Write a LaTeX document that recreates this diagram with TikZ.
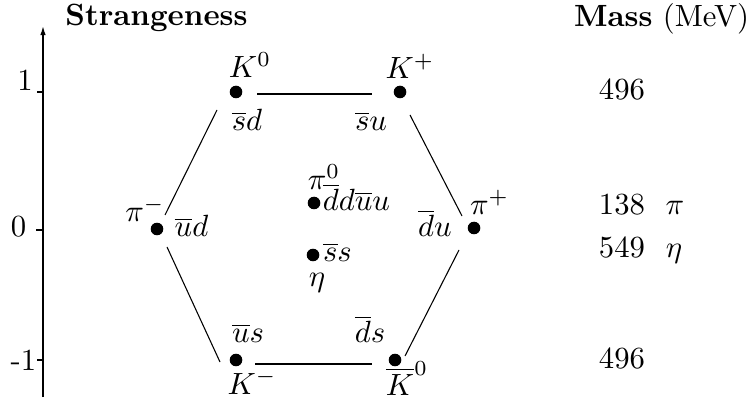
\documentclass[tikz,border=0pt]{standalone}
\usetikzlibrary{arrows.meta}
\begin{document}
\begin{tikzpicture}[x=0.3257pt,y=-0.3257pt,
  dot/.style={circle,fill=black,inner sep=0pt,minimum size=4.1pt},
  lab/.style={anchor=base,inner sep=0pt},
  hexedge/.style={line width=0.35pt},
  topedge/.style={line width=0.55pt},
  botedge/.style={line width=0.75pt},
  axisline/.style={line width=0.65pt}]
\useasboundingbox (0,0) rectangle (753,407);
% axis
\coordinate (axbot) at (43,397);
\coordinate (axtop) at (43,25);
\draw[axisline,-{Latex[length=3.3pt,width=1.8pt]}] (axbot) -- (axtop);
\coordinate (t1) at (37,92);
\coordinate (t0) at (36,230);
\coordinate (tm1) at (37,360);
\draw[axisline] (t1) -- (t1 -| axbot);
\draw[axisline] (t0) -- (t0 -| axbot);
\draw[axisline] (tm1) -- (tm1 -| axbot);
\node[lab] (l1) at (25,91) {1};
\node[lab] (l0) at (18.5,237) {0};
\node[lab] (lm1) at (23.5,370) {-1};
% headers
\node[lab] (hs) at (156.5,26) {\textbf{Strangeness}};
\node[lab] (hm) at (661.5,27) {\textbf{Mass} (MeV)};
% dots
\node[dot] (K0) at (236,92) {};
\node[dot] (Kp) at (400,92) {};
\node[dot] (pim) at (157,229) {};
\node[dot] (pip) at (474,228) {};
\node[dot] (Km) at (236,360) {};
\node[dot] (K0b) at (395,360) {};
\node[dot] (pi0) at (314,203) {};
\node[dot] (eta) at (313,255) {};
% edges
\draw[topedge] ([shift={(21,2)}]K0.center) -- ([shift={(-28,2)}]Kp.center);
\draw[botedge] ([shift={(19,4)}]Km.center) -- ([shift={(-23,4)}]K0b.center);
\draw[hexedge] ([shift={(-19,18)}]K0.center) -- ([shift={(8,-14)}]pim.center);
\draw[hexedge] ([shift={(10,18)}]pim.center) -- ([shift={(-16,2)}]Km.center);
\draw[hexedge] ([shift={(10,23)}]Kp.center) -- ([shift={(-12,-12)}]pip.center);
\draw[hexedge] ([shift={(-15,22)}]pip.center) -- ([shift={(10,-4)}]K0b.center);
% particle labels
\node[lab] (lK0) at (250,78) {$K^0$};
\node[lab] (qK0) at (247,131) {$\overline{s}d$};
\node[lab] (lKp) at (410,79) {$K^+$};
\node[lab] (qKp) at (371,131) {$\overline{s}u$};
\node[lab] (lpim) at (145,222) {$\pi^-$};
\node[lab] (qpim) at (191.5,237) {$\overline{u}d$};
\node[lab] (lpip) at (489.5,215) {$\pi^+$};
\node[lab] (qpip) at (435,237) {$\overline{d}u$};
\node[lab] (lpi0) at (324,190) {$\pi^0$};
\node[lab] (qpi0) at (356.5,211) {$\overline{d}d\overline{u}u$};
\node[lab] (qeta) at (337.5,262) {$\overline{s}s$};
\node[lab] (leta) at (317,287) {$\eta$};
\node[lab] (qKm) at (248,343) {$\overline{u}s$};
\node[lab] (lKm) at (252,394) {$K^-$};
\node[lab] (qK0b) at (370,343) {$\overline{d}s$};
\node[lab] (lK0b) at (407,395) {$\overline{K}^0$};
% masses
\node[lab] (m1) at (622,100) {496};
\node[lab] (m2) at (622,215) {138};
\node[lab] (m2s) at (675,215) {$\pi$};
\node[lab] (m3) at (622,258) {549};
\node[lab] (m3s) at (674,258) {$\eta$};
\node[lab] (m4) at (622,369) {496};
\end{tikzpicture}
\end{document}
